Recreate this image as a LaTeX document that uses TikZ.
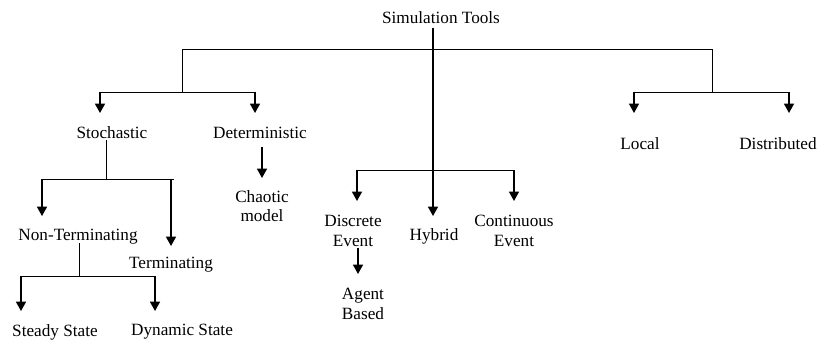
\documentclass[tikz,border=0pt]{standalone}
\usepackage{fontspec}
\setmainfont{Liberation Serif}
\usetikzlibrary{arrows.meta}
\begin{document}
\begin{tikzpicture}[x=0.75pt,y=-0.75pt,
  lbl/.style={inner sep=0pt, align=center, font=\fontsize{12.9}{14.5}\selectfont},
  ln/.style={line width=0.7pt},
  arr/.style={line width=1.1pt, -{Triangle[width=7.5pt,length=7pt]}}]
\useasboundingbox (0,0) rectangle (817,342);
% nodes
\node[lbl] (root) at (441,18) {Simulation Tools};
\node[lbl] (sto) at (112,133) {Stochastic};
\node[lbl] (det) at (260,133) {Deterministic};
\node[lbl] (loc) at (640,144) {Local};
\node[lbl] (dis) at (778,144) {Distributed};
\node[lbl] (cha) at (262,206) {Chaotic\\model};
\node[lbl] (nter) at (78,237) {Non-Terminating};
\node[lbl] (ter) at (171,265) {Terminating};
\node[lbl] (ste) at (55,332) {Steady State};
\node[lbl] (dyn) at (182,332) {Dynamic State};
\node[lbl] (dsc) at (353,231) {Discrete\\Event};
\node[lbl] (hyb) at (434,236) {Hybrid};
\node[lbl] (con) at (514,231) {Continuous\\Event};
\node[lbl] (agt) at (363,304) {Agent\\Based};
% junction coordinates
\coordinate (rootB) at (433,28);
\coordinate (hybT) at (433,216);
\coordinate (topL) at (182,49);
\coordinate (topR) at (712,49);
\coordinate (jL) at (182,92);
\coordinate (jR) at (712,92);
\coordinate (stoA) at (100,92);
\coordinate (detA) at (255,92);
\coordinate (locA) at (634,92);
\coordinate (disA) at (789,92);
\coordinate (stoT) at (100,113);
\coordinate (detT) at (255,113);
\coordinate (locT) at (634,113);
\coordinate (disT) at (789,113);
\coordinate (stoB) at (106,140);
\coordinate (jS) at (106,179);
\coordinate (sL) at (42,179);
\coordinate (sR) at (174,179);
\coordinate (terA) at (171,179);
\coordinate (nterT) at (42,216);
\coordinate (terT) at (171,246);
\coordinate (detB) at (262,147);
\coordinate (chaT) at (262,178);
\coordinate (mL) at (357,170);
\coordinate (mR) at (514,170);
\coordinate (dscT) at (357,201);
\coordinate (conT) at (514,201);
\coordinate (dscB) at (358,248);
\coordinate (agtT) at (358,274);
\coordinate (nterB) at (79,243);
\coordinate (jN) at (79,276);
\coordinate (nL) at (21,276);
\coordinate (nR) at (155,276);
\coordinate (steT) at (21,311);
\coordinate (dynT) at (155,311);
% connectors
\draw[arr] (rootB) -- (hybT);
\draw[ln] (jL) -- (topL) -- (topR) -- (jR);
\draw[ln] (stoA) -- (detA);
\draw[arr] (stoA) -- (stoT);
\draw[arr] (detA) -- (detT);
\draw[ln] (locA) -- (disA);
\draw[arr] (locA) -- (locT);
\draw[arr] (disA) -- (disT);
\draw[ln] (stoB) -- (jS);
\draw[ln] (sL) -- (sR);
\draw[arr] (sL) -- (nterT);
\draw[arr] (terA) -- (terT);
\draw[arr] (detB) -- (chaT);
\draw[ln] (mL) -- (mR);
\draw[arr] (mL) -- (dscT);
\draw[arr] (mR) -- (conT);
\draw[arr] (dscB) -- (agtT);
\draw[ln] (nterB) -- (jN);
\draw[ln] (nL) -- (nR);
\draw[arr] (nL) -- (steT);
\draw[arr] (nR) -- (dynT);
\end{tikzpicture}
\end{document}
